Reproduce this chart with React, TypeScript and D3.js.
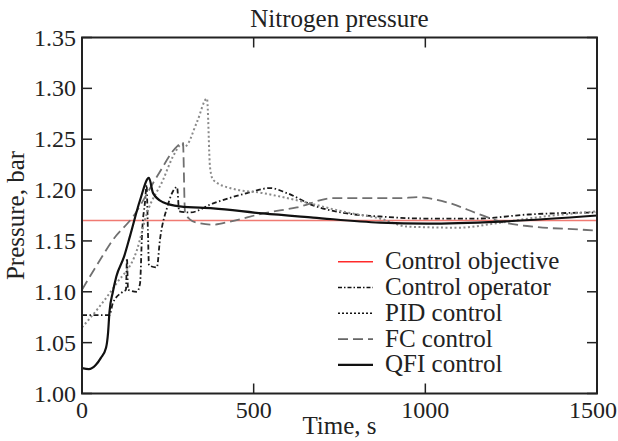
import React from "react";
import * as d3 from "d3";

const W = 618;
const H = 441;
const M = { left: 82, right: 597, top: 37.5, bottom: 393.5 };

const xTicks = [0, 500, 1000, 1500];
const yTicks = [1.0, 1.05, 1.1, 1.15, 1.2, 1.25, 1.3, 1.35];

const objectiveValue = 1.17;

const opTime = [0, 80, 90, 119, 128, 131, 134, 160, 169, 175, 184, 188, 192, 195, 218, 227, 248, 277, 283, 315, 382, 481, 548, 597, 673, 772, 868, 1000, 1150, 1300, 1500];
const opPressure = [1.077, 1.077, 1.089, 1.1, 1.102, 1.133, 1.102, 1.1, 1.108, 1.158, 1.19, 1.205, 1.16, 1.126, 1.124, 1.151, 1.183, 1.203, 1.179, 1.178, 1.187, 1.197, 1.202, 1.197, 1.185, 1.177, 1.174, 1.172, 1.172, 1.176, 1.178];

const pidTime = [0, 50, 100, 160, 189, 236, 265, 291, 300, 335, 364, 373, 382, 431, 527, 626, 772, 868, 950, 1100, 1200, 1300, 1400, 1500];
const pidPressure = [1.065, 1.085, 1.108, 1.141, 1.177, 1.21, 1.233, 1.245, 1.243, 1.267, 1.29, 1.222, 1.21, 1.202, 1.197, 1.19, 1.178, 1.172, 1.164, 1.163, 1.167, 1.172, 1.176, 1.179];

const fcTime = [0, 52, 90, 149, 218, 277, 294, 300, 315, 335, 382, 431, 527, 626, 731, 926, 976, 1072, 1151, 1218, 1314, 1459, 1500];
const fcPressure = [1.102, 1.131, 1.151, 1.174, 1.213, 1.243, 1.247, 1.178, 1.171, 1.168, 1.166, 1.169, 1.177, 1.183, 1.192, 1.192, 1.193, 1.187, 1.177, 1.169, 1.164, 1.161, 1.16];

const qfiTime = [0, 20, 40, 55, 70, 76, 80, 90, 100, 122, 140, 169, 195, 207, 236, 285, 382, 527, 673, 868, 1005, 1218, 1500];
const qfiPressure = [1.025, 1.024, 1.028, 1.035, 1.045, 1.06, 1.08, 1.1, 1.115, 1.134, 1.155, 1.19, 1.212, 1.197, 1.188, 1.184, 1.182, 1.177, 1.173, 1.168, 1.167, 1.169, 1.175];

const legendLabels = ["Control objective", "Control operator", "PID control", "FC control", "QFI control"];

const FONT = "'Liberation Serif', 'DejaVu Serif', serif";

const styles = [
  { stroke: "#f07a72", width: 1.5, dash: "" },
  { stroke: "#1a1a1a", width: 1.8, dash: "5,2.5,1.5,2.5" },
  { stroke: "#8a8a8a", width: 2, dash: "2,2.5" },
  { stroke: "#707070", width: 1.8, dash: "10,5" },
  { stroke: "#111", width: 2.2, dash: "" },
];
const legendStyles = [
  { stroke: "#ff2a2a", width: 1.5, dash: "" },
  { stroke: "#111", width: 1.5, dash: "4,2,1.5,2" },
  { stroke: "#111", width: 1.5, dash: "2,2" },
  { stroke: "#666", width: 1.8, dash: "10,5" },
  { stroke: "#111", width: 2.2, dash: "" },
];

export default function App() {
  const x = d3.scaleLinear().domain([0, 1500]).range([M.left, M.right]);
  const y = d3.scaleLinear().domain([1.0, 1.35]).range([M.bottom, M.top]);
  const line = d3
    .line<[number, number]>()
    .x((d) => x(d[0]))
    .y((d) => y(d[1]))
    .curve(d3.curveMonotoneX);
  const zip = (a: number[], b: number[]) => a.map((t, i) => [t, b[i]] as [number, number]);

  const series = [
    zip([0, 1500], [objectiveValue, objectiveValue]),
    zip(opTime, opPressure),
    zip(pidTime, pidPressure),
    zip(fcTime, fcPressure),
    zip(qfiTime, qfiPressure),
  ];

  const tickLen = 10;
  const legendRowY = (i: number) => 261.7 + i * 25.8;
  const txt = { fontFamily: FONT } as React.CSSProperties;

  return (
    <svg width={W} height={H} style={{ position: "absolute", left: 0, top: 0, background: "#fff", fontFamily: FONT }}>
      <defs>
        <clipPath id="plotclip">
          <rect x={M.left} y={M.top} width={M.right - M.left} height={M.bottom - M.top} />
        </clipPath>
      </defs>
      <g clipPath="url(#plotclip)">
        {series.map((s, i) => (
          <path
            key={i}
            d={line(s) || ""}
            fill="none"
            stroke={styles[i].stroke}
            strokeWidth={styles[i].width}
            strokeDasharray={styles[i].dash || undefined}
            strokeLinejoin="round"
          />
        ))}
      </g>
      <rect x={M.left} y={M.top} width={M.right - M.left} height={M.bottom - M.top} fill="none" stroke="#222" strokeWidth={2} />
      {xTicks.map((t) => {
        const last = t === xTicks[xTicks.length - 1];
        return (
          <g key={"x" + t}>
            <line x1={x(t)} x2={x(t)} y1={M.bottom} y2={M.bottom - tickLen} stroke="#222" strokeWidth={1.5} />
            <line x1={x(t)} x2={x(t)} y1={M.top} y2={M.top + tickLen} stroke="#222" strokeWidth={1.5} />
            <text
              x={last ? W - 1 : x(t)}
              y={418}
              fontSize={24}
              textAnchor={last ? "end" : "middle"}
              fill="#222"
              style={txt}
            >
              {t}
            </text>
          </g>
        );
      })}
      {yTicks.map((t) => (
        <g key={"y" + t}>
          <line x1={M.left} x2={M.left + tickLen} y1={y(t)} y2={y(t)} stroke="#222" strokeWidth={1.5} />
          <line x1={M.right} x2={M.right - tickLen} y1={y(t)} y2={y(t)} stroke="#222" strokeWidth={1.5} />
          <text x={76} y={y(t) + 8} fontSize={24} textAnchor="end" fill="#222" style={txt}>
            {t.toFixed(2)}
          </text>
        </g>
      ))}
      <text x={(M.left + M.right) / 2} y={27} fontSize={25} textAnchor="middle" fill="#222" style={txt}>
        Nitrogen pressure
      </text>
      <text x={(M.left + M.right) / 2} y={434} fontSize={25} textAnchor="middle" fill="#222" style={txt}>
        Time, s
      </text>
      <text
        transform={`translate(${24},${(M.top + M.bottom) / 2}) rotate(-90)`}
        fontSize={25}
        textAnchor="middle"
        fill="#222"
        style={txt}
      >
        Pressure, bar
      </text>
      {legendLabels.map((lab, i) => (
        <g key={lab}>
          <line
            x1={338}
            x2={373}
            y1={legendRowY(i)}
            y2={legendRowY(i)}
            stroke={legendStyles[i].stroke}
            strokeWidth={legendStyles[i].width}
            strokeDasharray={legendStyles[i].dash || undefined}
          />
          <text x={385} y={legendRowY(i) + 7.5} fontSize={25} fill="#222" style={txt}>
            {lab}
          </text>
        </g>
      ))}
    </svg>
  );
}
